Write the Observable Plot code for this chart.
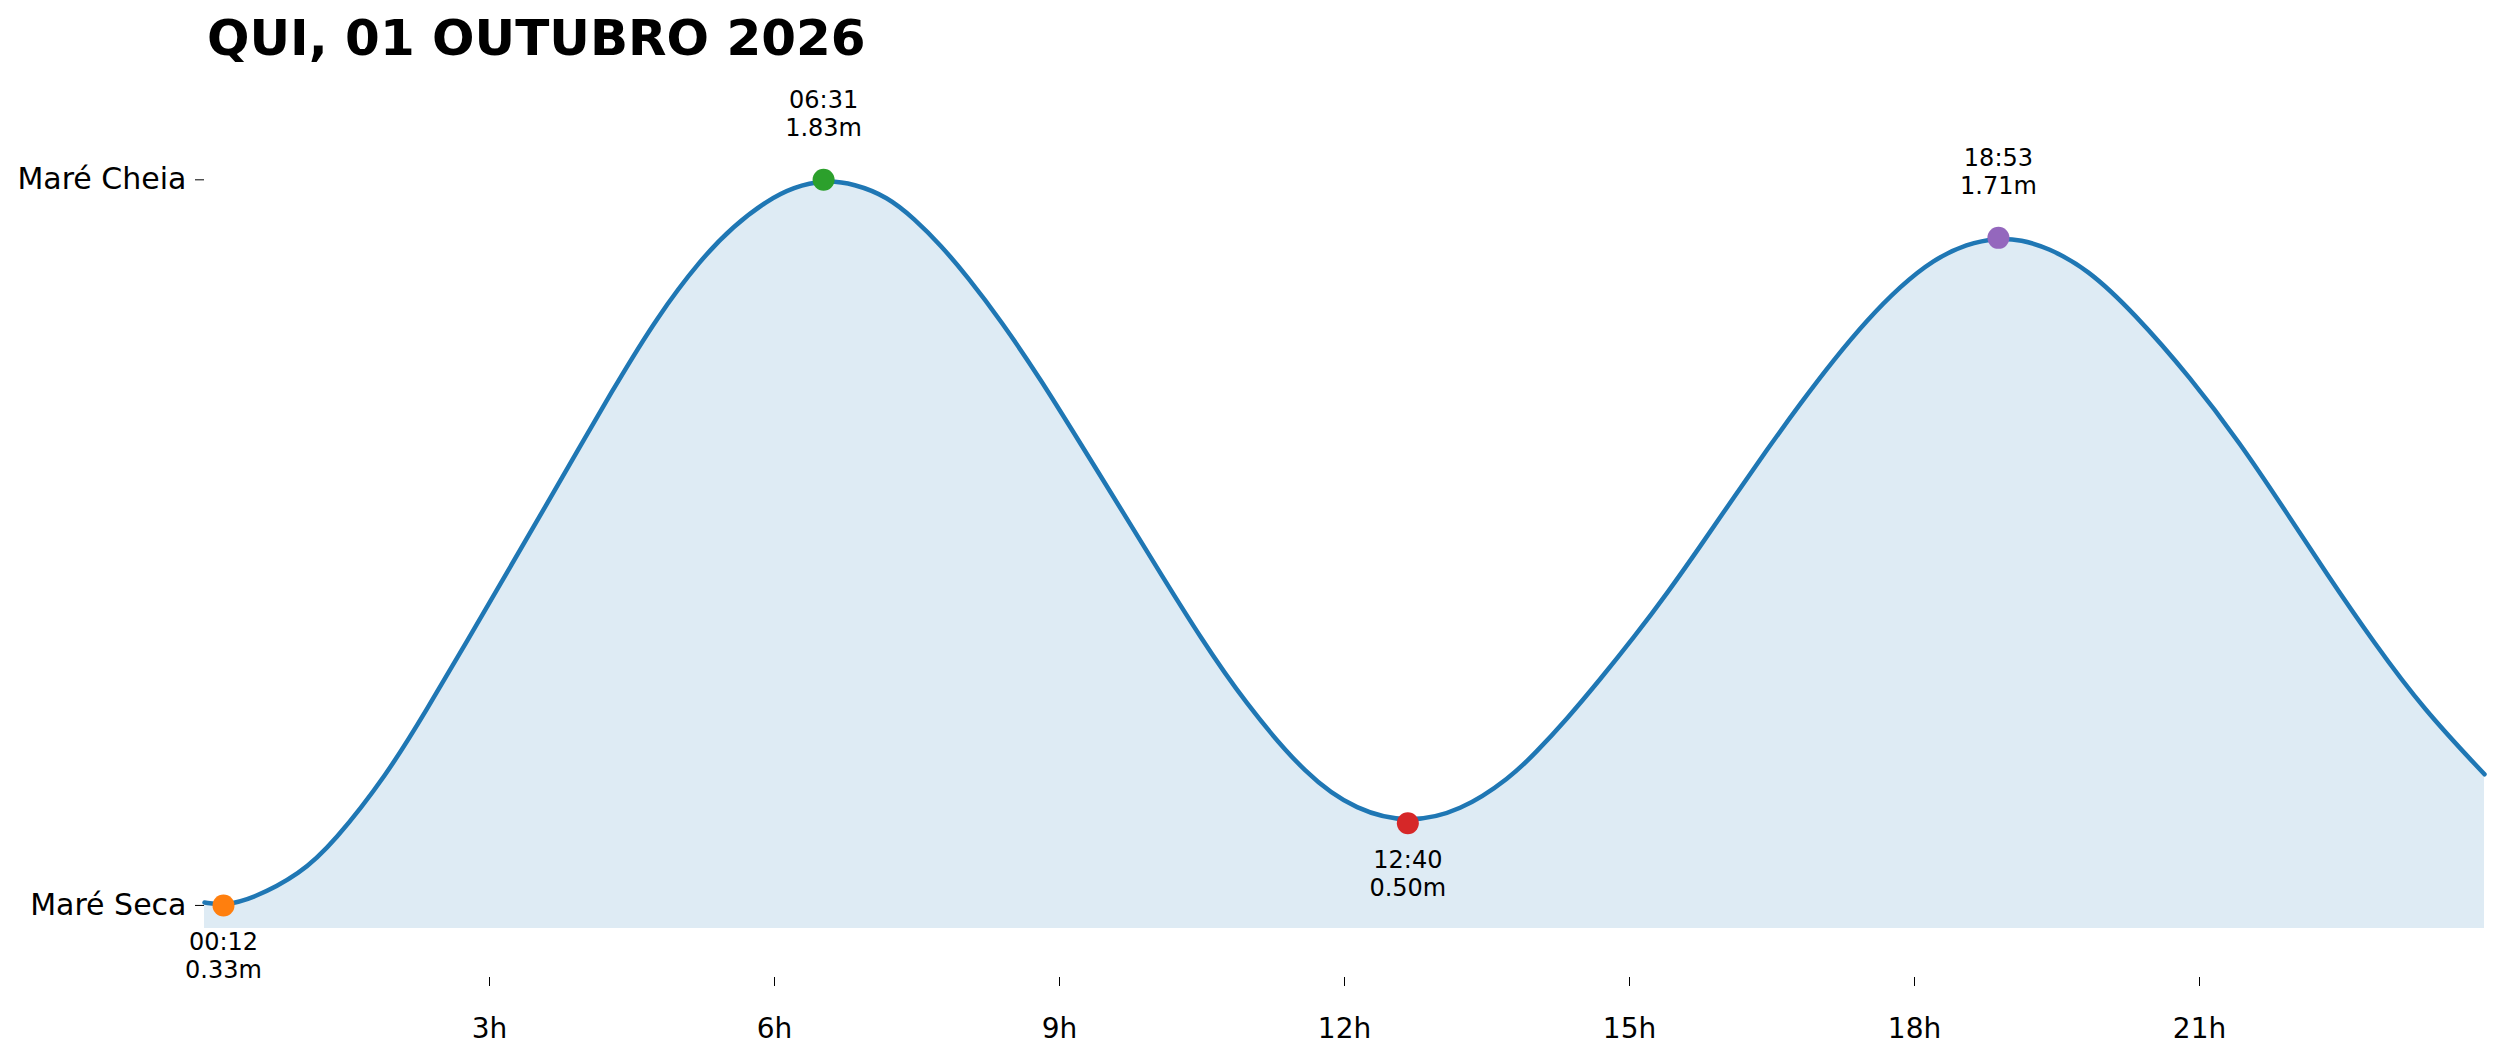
<!DOCTYPE html>
<html>
<head>
<meta charset="utf-8">
<script src="https://cdn.jsdelivr.net/npm/d3@7"></script>
<script src="https://cdn.jsdelivr.net/npm/@observablehq/plot@0.6"></script>
<style>
  body { margin: 0; background: white; overflow: hidden; }
  #titulo {
    height: 70px;
    line-height: 76px;
    padding-left: 207px;
    font-family: "DejaVu Sans", sans-serif;
    font-weight: bold;
    font-size: 50px;
    color: #000;
    white-space: nowrap;
  }
</style>
</head>
<body>
<div id="titulo">QUI, 01 OUTUBRO 2026</div>
<div id="grafico"></div>
<script>
// curva da maré (horas desde 00:00, altura em m)
const horas = [0, 0.2, 0.5, 1.01, 1.36, 1.92, 2.34, 2.76, 3.19, 3.61,
  3.92, 4.34, 4.76, 5.22, 5.57, 5.92, 6.20, 6.52, 6.84, 7.19,
  7.47, 7.75, 8.03, 8.38, 8.80, 9.22, 9.68, 10.08, 10.48, 10.94,
  11.61, 12.13, 12.67, 13.22, 13.75, 14.01, 14.34, 14.69, 15.05, 15.40,
  15.75, 16.10, 16.45, 16.80, 17.15, 17.50, 17.85, 18.20, 18.55, 18.88,
  19.12, 19.40, 19.82, 20.31, 20.91, 21.43, 21.89, 22.34, 22.84, 23.36,
  24.0];
const alturas = [0.336, 0.33, 0.343, 0.395, 0.46, 0.60, 0.735, 0.875, 1.02, 1.162,
  1.268, 1.41, 1.545, 1.665, 1.735, 1.787, 1.815, 1.83, 1.822, 1.795,
  1.75, 1.695, 1.63, 1.54, 1.418, 1.285, 1.139, 1.011, 0.885, 0.752,
  0.595, 0.526, 0.50, 0.524, 0.595, 0.645, 0.715, 0.797, 0.885, 0.976,
  1.074, 1.174, 1.273, 1.368, 1.458, 1.54, 1.61, 1.665, 1.698, 1.71,
  1.706, 1.69, 1.646, 1.555, 1.42, 1.285, 1.15, 1.015, 0.872, 0.735,
  0.601];

// preia-mar / baixa-mar
const marHoras = ["00:12", "06:31", "12:40", "18:53"];
const marAlturas = [0.33, 1.83, 0.50, 1.71];
const marTipos = ["baixa", "alta", "baixa", "alta"];
const marCores = ["#ff7f0e", "#2ca02c", "#d62728", "#9467bd"];

const ticksX = [3, 6, 9, 12, 15, 18, 21];
const ticksY = [0.33, 1.83];
const rotulosY = ["Maré Seca", "Maré Cheia"];
const baseArea = 0.2825;

const curva = horas.map((h, i) => ({hora: h, altura: alturas[i]}));
const mares = marHoras.map((t, i) => {
  const [hh, mm] = t.split(":").map(Number);
  return {hora: hh + mm / 60, altura: marAlturas[i], tipo: marTipos[i], cor: marCores[i], texto: t + "\n" + marAlturas[i].toFixed(2) + "m"};
});

const chart = Plot.plot({
  width: 2501,
  height: 992,
  marginLeft: 204,
  marginRight: 17,
  marginTop: 0,
  marginBottom: 85,
  style: {fontFamily: "DejaVu Sans", background: "white", color: "#000"},
  x: {domain: [0, 24], label: null},
  y: {domain: [0.181, 2.056], label: null},
  marks: [
    Plot.areaY(curva, {x: "hora", y1: () => baseArea, y2: "altura", fill: "#1f77b4", fillOpacity: 0.15, curve: "basis"}),
    Plot.line(curva, {x: "hora", y: "altura", stroke: "#1f77b4", strokeWidth: 4.5, curve: "basis"}),
    Plot.dot(mares, {x: "hora", y: "altura", r: 11, fill: "cor", stroke: null}),
    Plot.text(mares.filter(d => d.tipo == "alta"), {x: "hora", y: "altura", text: "texto", fontSize: 24, lineHeight: 1.17, lineAnchor: "bottom", dy: -44, fill: "#000"}),
    Plot.text(mares.filter(d => d.tipo == "baixa"), {x: "hora", y: "altura", text: "texto", fontSize: 24, lineHeight: 1.17, lineAnchor: "top", dy: 25, fill: "#000"}),
    Plot.axisX({ticks: ticksX, tickFormat: d => d + "h", tickSize: 9, tickPadding: 32, fontSize: 28, label: null}),
    Plot.axisY({ticks: ticksY, tickFormat: d => rotulosY[ticksY.indexOf(d)], tickSize: 9, tickPadding: 9, fontSize: 30, label: null})
  ]
});

d3.select('#grafico').append(() => chart);
</script>
</body>
</html>
